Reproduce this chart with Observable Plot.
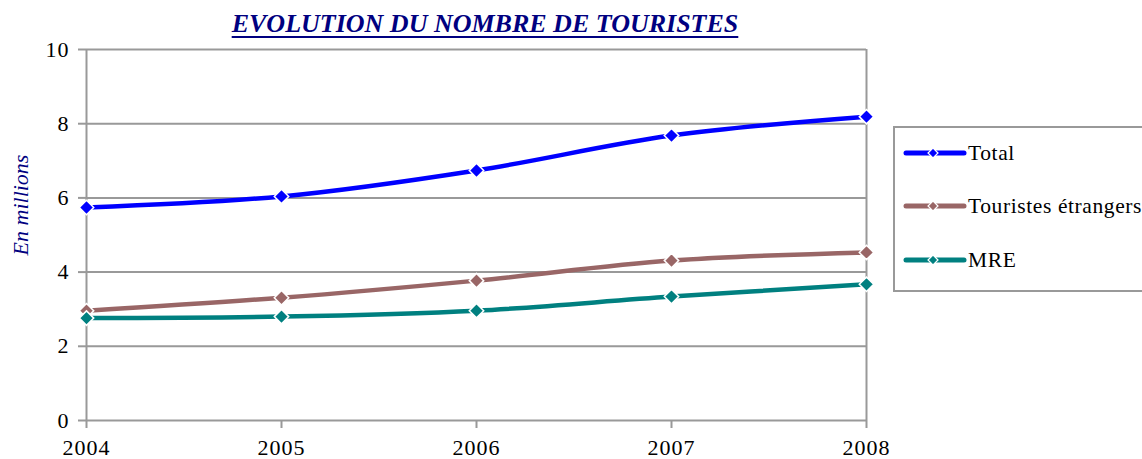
<!DOCTYPE html>
<html><head><meta charset="utf-8">
<script src="https://cdn.jsdelivr.net/npm/d3@7"></script>
<script src="https://cdn.jsdelivr.net/npm/@observablehq/plot@0.6"></script>
<style>
body{margin:0;background:#fff;}
#wrap{position:relative;width:1142px;height:459px;overflow:hidden;}
#title{position:absolute;left:0;width:970px;top:9px;line-height:30px;text-align:center;font-weight:bold;font-style:italic;font-size:26px;color:#000080;text-decoration:underline;text-decoration-thickness:2px;text-underline-offset:4px;white-space:nowrap;}
#ylab{position:absolute;left:21px;top:205px;transform:translate(-50%,-50%) rotate(-90deg);font-style:italic;font-size:22px;color:#000080;white-space:nowrap;}
#legend{position:absolute;left:893px;top:126px;width:260px;height:166px;border:2px solid #999;box-sizing:border-box;}
.item{position:absolute;left:8px;height:24px;display:flex;align-items:center;font-size:21.5px;letter-spacing:0.6px;white-space:nowrap;}
</style></head>
<body>
<div id="wrap">
<div id="chart"></div>
<div id="title">EVOLUTION DU NOMBRE DE TOURISTES</div>
<div id="ylab">En millions</div>
<div id="legend"></div>
</div>
<script>
const years = [2004, 2005, 2006, 2007, 2008];
const seriesNames = ["Total", "Touristes étrangers", "MRE"];
const seriesColors = ["#0000FF", "#996666", "#008080"];
const total = [5.74, 6.04, 6.74, 7.68, 8.19];
const etrangers = [2.96, 3.31, 3.77, 4.31, 4.53];
const mre = [2.76, 2.80, 2.96, 3.34, 3.67];
const yTicks = [0, 2, 4, 6, 8, 10];

const serif = "'Liberation Serif', serif";
const values = [total, etrangers, mre];
const data = [];
seriesNames.forEach((s, i) => years.forEach((yr, j) => data.push({series: s, year: yr, value: values[i][j]})));

const grid = "#999999";
const chart = Plot.plot({
  width: 1142, height: 459,
  marginLeft: 86, marginRight: 276, marginTop: 49, marginBottom: 39,
  style: {fontFamily: serif, fontSize: "22px", color: "#000", background: "transparent", letterSpacing: "1px"},
  x: {domain: [2004, 2008], ticks: years, tickFormat: d => String(d)},
  y: {domain: [0, 10], ticks: yTicks},
  color: {domain: seriesNames, range: seriesColors},
  marks: [
    Plot.gridY(yTicks.filter(d => d > 0), {stroke: grid, strokeOpacity: 1, strokeWidth: 2}),
    Plot.ruleX([2004, 2008], {stroke: grid, strokeWidth: 2}),
    Plot.ruleY([0], {stroke: grid, strokeWidth: 2}),
    Plot.axisY({ticks: yTicks, tickSize: 8, tickPadding: 9, stroke: grid, strokeWidth: 2, label: null, fill: "#000"}),
    Plot.axisX({ticks: years, tickSize: 8, tickPadding: 11, stroke: grid, strokeWidth: 2, label: null, fill: "#000", tickFormat: d => String(d)}),
    Plot.line(data, {x: "year", y: "value", z: "series", stroke: "series", strokeWidth: 4.5, curve: "catmull-rom"}),
    Plot.dot(data, {x: "year", y: "value", fill: "series", stroke: "white", strokeWidth: 1.5, symbol: "diamond2", r: 6.5})
  ]
});
document.getElementById("chart").appendChild(chart);

const legend = document.getElementById("legend");
const rowsY = [25, 78, 132];
seriesNames.forEach((s, i) => {
  const d = document.createElement("div");
  d.className = "item";
  d.style.top = (rowsY[i] - 12) + "px";
  const c = seriesColors[i];
  d.innerHTML = `<svg width="64" height="20" style="margin-right:1px"><line x1="3" x2="61" y1="10" y2="10" stroke="${c}" stroke-width="5" stroke-linecap="round"/><path d="M30 5 L35 10 L30 15 L25 10 Z" fill="${c}" stroke="white" stroke-width="1.2"/></svg><span>${s}</span>`;
  legend.appendChild(d);
});
document.querySelectorAll("#wrap, #wrap *").forEach(el => el.style.setProperty("font-family", serif, "important"));

// make sure the serif faces are resolved and laid out before the picture is taken
const cv = document.createElement("canvas").getContext("2d");
["", "italic ", "bold italic ", "bold "].forEach(st => { cv.font = `${st}20px 'Liberation Serif'`; cv.measureText("Touristes 2004 EVOLUTION"); });
getComputedStyle(document.getElementById("title")).fontFamily;
for (const ss of document.styleSheets) { try { for (const r of ss.cssRules) r.cssText; } catch (e) {} }
if (document.fonts && document.fonts.load) {
  ["22px 'Liberation Serif'", "italic 22px 'Liberation Serif'", "bold italic 26px 'Liberation Serif'"].forEach(f => document.fonts.load(f));
}
document.body.offsetHeight;
</script>
</body></html>
